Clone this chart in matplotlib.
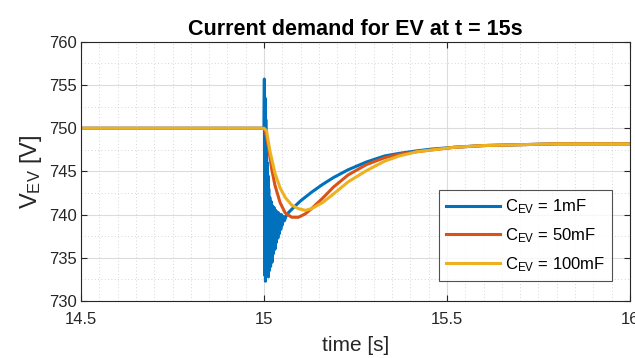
import matplotlib
matplotlib.use("Agg")
import matplotlib.pyplot as plt
from matplotlib.ticker import MultipleLocator, FuncFormatter

plt.rcParams['font.family'] = ['Liberation Sans', 'DejaVu Sans']

# C_EV = 1mF (blue) - oscillation right after the step, then smooth recovery
t_1mF = [14.5, 15.000, 15.001, 15.002, 15.003, 15.004, 15.005, 15.006, 15.007,
         15.008, 15.009, 15.010, 15.011, 15.012, 15.013, 15.014, 15.016, 15.018,
         15.020, 15.022, 15.024, 15.026, 15.028, 15.030, 15.032, 15.034, 15.036,
         15.038, 15.040, 15.042, 15.044, 15.046, 15.048, 15.050, 15.053, 15.056,
         15.060, 15.066, 15.08, 15.10, 15.13, 15.16, 15.19, 15.23, 15.28, 15.33,
         15.37, 15.42, 15.46, 15.52, 15.6, 15.7, 15.8, 15.9, 16.0]
v_1mF = [750.0, 750.0, 755.7, 733.0, 753.5, 732.3, 751.0, 733.0, 748.5,
         733.5, 746.0, 733.0, 744.5, 732.8, 743.0, 733.5, 742.0, 734.0,
         741.5, 734.5, 741.0, 735.5, 740.8, 736.0, 740.5, 736.8, 740.3,
         737.3, 740.2, 737.8, 740.0, 738.3, 740.0, 738.8, 739.8, 739.3,
         739.8, 740.2, 740.8, 741.6, 742.6, 743.5, 744.3, 745.2, 746.1, 746.8,
         747.1, 747.4, 747.6, 747.8, 748.0, 748.1, 748.2, 748.2, 748.2]

# C_EV = 50mF (red)
t_50mF = [14.5, 15.000, 15.004, 15.012, 15.021, 15.030, 15.044, 15.058, 15.076,
          15.094, 15.113, 15.13, 15.16, 15.19, 15.23, 15.28, 15.33, 15.37, 15.42,
          15.46, 15.52, 15.6, 15.7, 15.8, 15.9, 16.0]
v_50mF = [750.0, 750.0, 749.6, 747.9, 745.3, 743.4, 741.4, 740.2, 739.7,
          739.7, 740.1, 740.7, 741.9, 743.2, 744.6, 745.8, 746.6, 747.0, 747.3,
          747.5, 747.8, 748.0, 748.1, 748.2, 748.2, 748.2]

# C_EV = 100mF (yellow)
t_100mF = [14.5, 15.000, 15.007, 15.016, 15.030, 15.044, 15.058, 15.076, 15.094,
           15.113, 15.13, 15.16, 15.19, 15.23, 15.28, 15.33, 15.37, 15.42, 15.46,
           15.52, 15.6, 15.7, 15.8, 15.9, 16.0]
v_100mF = [750.0, 750.0, 749.7, 747.4, 744.8, 743.1, 742.0, 741.1, 740.7,
           740.5, 740.7, 741.4, 742.4, 743.8, 745.1, 746.2, 746.8, 747.3, 747.5,
           747.8, 748.0, 748.1, 748.2, 748.2, 748.2]

labels = ['$\\mathregular{C_{EV}}$ = 1mF', '$\\mathregular{C_{EV}}$ = 50mF',
          '$\\mathregular{C_{EV}}$ = 100mF']
colors = ['#0072BD', '#D95319', '#EDB120']

fig = plt.figure(figsize=(6.35, 3.58), dpi=100)
ax = fig.add_axes([0.1276, 0.159, 0.8644, 0.724])

ax.plot(t_1mF, v_1mF, color=colors[0], lw=2.2, label=labels[0])
ax.plot(t_50mF, v_50mF, color=colors[1], lw=2.2, label=labels[1])
ax.plot(t_100mF, v_100mF, color=colors[2], lw=2.2, label=labels[2])

ax.set_xlim(14.5, 16)
ax.set_ylim(730, 760)
ax.xaxis.set_major_locator(MultipleLocator(0.5))
ax.xaxis.set_minor_locator(MultipleLocator(0.05))
ax.yaxis.set_major_locator(MultipleLocator(5))
ax.yaxis.set_minor_locator(MultipleLocator(2.5))
ax.xaxis.set_major_formatter(FuncFormatter(lambda v, p: f"{v:g}"))

# MATLAB-like grid
ax.grid(which='major', color='#dcdcdc', lw=0.8, ls='-')
ax.grid(which='minor', color='#c8c8c8', lw=0.6, ls=(0, (1, 3)))
ax.set_axisbelow(True)

ax.tick_params(which='major', direction='in', top=True, right=True, length=4,
               color='#262626', labelsize=12, labelcolor='#262626')
ax.tick_params(which='minor', length=0)
ax.tick_params(axis='x', pad=8)
ax.tick_params(axis='y', pad=3)
for s in ax.spines.values():
    s.set_color('#262626')
    s.set_linewidth(0.8)

ax.set_title('Current demand for EV at t = 15s', fontsize=15.5, fontweight='bold', pad=5)
ax.set_xlabel('time [s]', fontsize=15, color='#262626', labelpad=6)
ax.set_ylabel('$\\mathregular{V_{EV}}$ [V]', fontsize=17, color='#262626', labelpad=4)

leg = ax.legend(loc='lower right', bbox_to_anchor=(0.983, 0.045), fontsize=12,
                frameon=True, fancybox=False, edgecolor='#262626', handlelength=3.2,
                borderpad=0.45, labelspacing=0.6, handletextpad=0.3)
leg.get_frame().set_linewidth(0.8)

fig.savefig('out.png', dpi=100)
